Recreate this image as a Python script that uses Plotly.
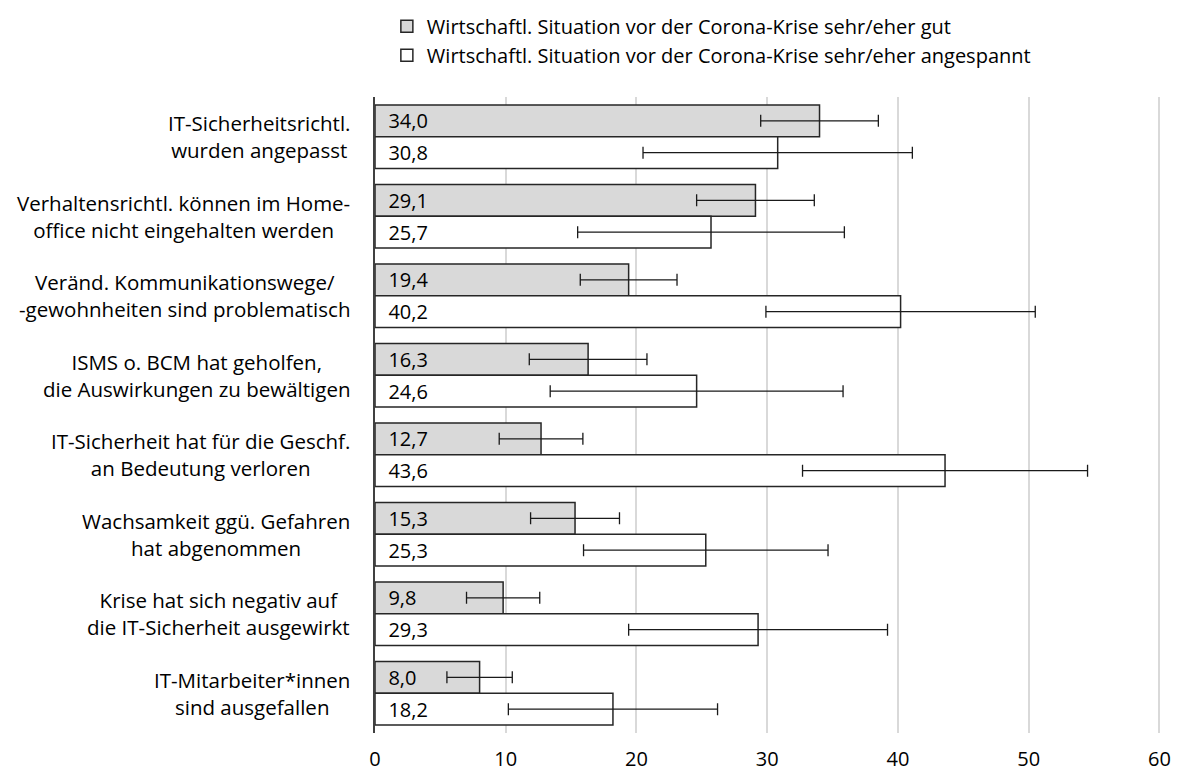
import plotly.graph_objects as go

categories = [
    "IT-Sicherheitsrichtl.<br>wurden angepasst",
    "Verhaltensrichtl. können im Home-<br>office nicht eingehalten werden",
    "Veränd. Kommunikationswege/<br>-gewohnheiten sind problematisch",
    "ISMS o. BCM hat geholfen,<br>die Auswirkungen zu bewältigen",
    "IT-Sicherheit hat für die Geschf.<br>an Bedeutung verloren",
    "Wachsamkeit ggü. Gefahren<br>hat abgenommen",
    "Krise hat sich negativ auf<br>die IT-Sicherheit ausgewirkt",
    "IT-Mitarbeiter*innen<br>sind ausgefallen",
]
series_names = [
    "Wirtschaftl. Situation vor der Corona-Krise sehr/eher gut",
    "Wirtschaftl. Situation vor der Corona-Krise sehr/eher angespannt",
]
gut = [34.0, 29.1, 19.4, 16.3, 12.7, 15.3, 9.8, 8.0]
gut_err = [4.5, 4.5, 3.7, 4.5, 3.2, 3.4, 2.8, 2.5]
angespannt = [30.8, 25.7, 40.2, 24.6, 43.6, 25.3, 29.3, 18.2]
angespannt_err = [10.3, 10.2, 10.3, 11.2, 10.9, 9.35, 9.9, 8.0]
x_ticks = [0, 10, 20, 30, 40, 50, 60]
x_range = [0, 60.5]

FONT = "Open Sans"
FS = 20.5

def lab(vals):
    return ["\u00a0\u00a0" + f"{v:.1f}".replace(".", ",") for v in vals]

fig = go.Figure()
for name, vals, errs, fill in [
    (series_names[0], gut, gut_err, "#d9d9d9"),
    (series_names[1], angespannt, angespannt_err, "#ffffff"),
]:
    fig.add_trace(go.Bar(
        name=name,
        y=categories,
        x=vals,
        orientation="h",
        marker=dict(color=fill, line=dict(color="#262626", width=1.5)),
        error_x=dict(type="data", array=errs, visible=True, color="#1a1a1a",
                     thickness=1.3, width=6),
        text=lab(vals),
        textposition="inside",
        insidetextanchor="start",
        textfont=dict(family=FONT, size=20, color="#000000"),
        constraintext="none",
        cliponaxis=False,
    ))

for c in categories:
    fig.add_annotation(
        x=0, xref="paper", y=c, yref="y",
        text=c, showarrow=False, xanchor="right", align="center",
        xshift=-23, font=dict(family=FONT, size=FS, color="#000000"),
    )

fig.update_layout(
    width=1164, height=764,
    margin=dict(l=367, r=6, t=89, b=39, autoexpand=False),
    paper_bgcolor="white", plot_bgcolor="white",
    barmode="group", bargap=0.2, bargroupgap=0,
    separators=",.",
    font=dict(family=FONT, size=FS, color="#000000"),
    showlegend=True,
    legend=dict(
        orientation="v", x=0.015, xanchor="left", y=1.142, yanchor="top",
        font=dict(family=FONT, size=20, color="#000000"),
        itemwidth=30, traceorder="normal", bgcolor="rgba(0,0,0,0)",
        tracegroupgap=0,
    ),
    xaxis=dict(
        range=x_range, tickvals=x_ticks, showgrid=True, gridcolor="#d9d9d9",
        gridwidth=2, zeroline=False, showline=False, ticks="",
        ticklabelstandoff=12, ticklabeloverflow="allow",
        tickfont=dict(family=FONT, size=20, color="#000000"),
    ),
    yaxis=dict(
        autorange="reversed", showticklabels=False, showline=True,
        linecolor="#404040", linewidth=2, showgrid=False, ticks="",
    ),
)

fig.write_html("out.html")
